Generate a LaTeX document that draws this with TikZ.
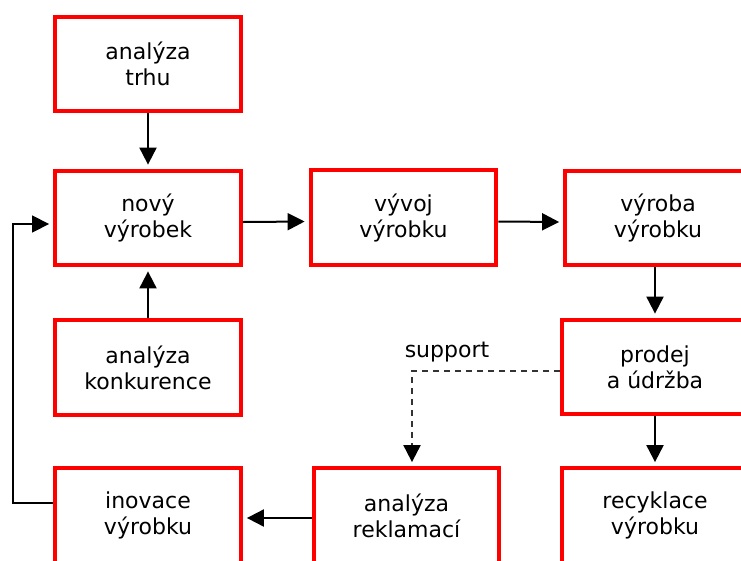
\documentclass[tikz,border=0pt]{standalone}
\usepackage{fontspec}
\setmainfont{DejaVu Sans}
\usetikzlibrary{arrows.meta,calc}
\begin{document}
\begin{tikzpicture}[x=1pt,y=-1pt,
  box/.style={draw=red, line width=4.3pt, minimum width=185.5pt, minimum height=94.5pt,
    inner sep=0pt, align=center, font=\fontsize{22}{26}\selectfont},
  tip/.style={-{Triangle[length=17pt 0 0,width=17pt 0 0]}},
  arr/.style={line width=2pt, tip, shorten >=4pt},
  fb/.style={line width=1.3pt, tip, shorten >=4pt},
  dsh/.style={line width=2pt, draw=black!80, dash pattern=on 6pt off 5pt,
    -{Triangle[length=17pt 0 0,width=17pt 0 0,color=black]}, shorten >=4pt},
  lbl/.style={font=\fontsize{22}{26}\selectfont, inner sep=0pt}
]
\useasboundingbox (0,0) rectangle (741,560);
\clip (0,0) rectangle (741,560);
\node[box] (trh) at (148,64) {analýza\\trhu};
\node[box] (novy) at (148,218) {nový\\výrobek};
\node[box] (vyvoj) at (403.5,217.5) {vývoj\\výrobku};
\node[box] (vyroba) at (658,218) {výroba\\výrobku};
\node[box] (konk) at (148,367.5) {analýza\\konkurence};
\node[box] (prodej) at (655,367) {prodej\\a údržba};
\node[box] (inov) at (148,515.5) {inovace\\výrobku};
\node[box] (rekl) at (406.5,515.5) {analýza\\reklamací};
\node[box] (recyk) at (655,515.5) {recyklace\\výrobku};
\node[lbl, anchor=base] (sup) at (447,357) {support};

\draw[arr] (trh.south) -- (novy.north);
\draw[arr] ([yshift=-4pt]novy.east) -- ([yshift=-4pt]vyvoj.west);
\draw[arr] ([yshift=-4pt]vyvoj.east) -- ([yshift=-4pt]vyroba.west);
\draw[arr] (konk.north) -- (novy.south);
\draw[arr] (prodej.north |- vyroba.south) -- (prodej.north);
\draw[arr] (prodej.south) -- (recyk.north);
\draw[arr] ([yshift=-2.5pt]rekl.west) -- ([yshift=-2.5pt]inov.east);
\draw[fb] ([yshift=12.5pt]inov.west) -- ++(-40,0) |- ([yshift=-6pt]novy.west);
\draw[dsh] ([yshift=-4pt]prodej.west) -| ([xshift=5.5pt]rekl.north);
\end{tikzpicture}
\end{document}
